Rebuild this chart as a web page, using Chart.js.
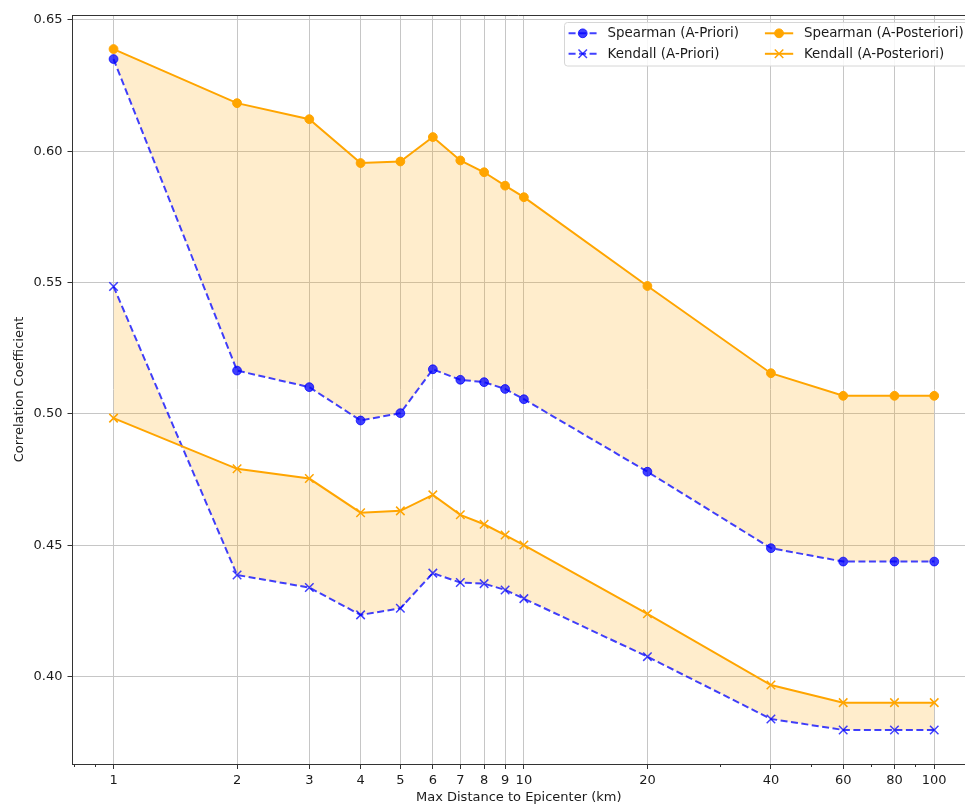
<!DOCTYPE html>
<html><head><meta charset="utf-8">
<script src="https://cdn.jsdelivr.net/npm/chart.js@4.4.1/dist/chart.umd.min.js"></script>
<style>
html,body{margin:0;padding:0;background:#fff;overflow:hidden;}
#wrap{width:965px;height:805px;overflow:hidden;position:relative;background:#fff;}
canvas{display:block;}
</style></head><body>
<div id="wrap"><canvas id="c" width="965" height="805"></canvas></div>
<script>
// ---- data ----
const distances = [1, 2, 3, 4, 5, 6, 7, 8, 9, 10, 20, 40, 60, 80, 100];
const spearmanPriori = [0.6351, 0.5165, 0.5102, 0.4975, 0.5003, 0.5170, 0.5130, 0.5121, 0.5095, 0.5056, 0.4780, 0.4489, 0.4438, 0.4438, 0.4438];
const kendallPriori = [0.5485, 0.4387, 0.4339, 0.4235, 0.4260, 0.4394, 0.4358, 0.4354, 0.4330, 0.4297, 0.4076, 0.3839, 0.3797, 0.3797, 0.3797];
const spearmanPosteriori = [0.6389, 0.6183, 0.6122, 0.5955, 0.5961, 0.6054, 0.5965, 0.5920, 0.5869, 0.5825, 0.5487, 0.5155, 0.5069, 0.5069, 0.5069];
const kendallPosteriori = [0.4984, 0.4791, 0.4754, 0.4624, 0.4631, 0.4692, 0.4616, 0.4580, 0.4539, 0.4501, 0.4239, 0.3968, 0.3901, 0.3901, 0.3901];
const seriesLabels = ['Spearman (A-Priori)', 'Kendall (A-Priori)', 'Spearman (A-Posteriori)', 'Kendall (A-Posteriori)'];
const xTickValues = [1, 2, 3, 4, 5, 6, 7, 8, 9, 10, 20, 40, 60, 80, 100];
const xMinorTickValues = [0.8, 0.9, 30, 50, 70, 90];
const yTickValues = [0.40, 0.45, 0.50, 0.55, 0.60, 0.65];
const xTitle = 'Max Distance to Epicenter (km)';
const yTitle = 'Correlation Coefficient';

// ---- helpers ----
const pts = (ys) => distances.map((x, i) => ({x: x, y: ys[i]}));
const allY = [].concat(spearmanPriori, kendallPriori, spearmanPosteriori, kendallPosteriori);
const yLo = Math.min(...allY), yHi = Math.max(...allY), yR = yHi - yLo;
const lxLo = Math.log10(Math.min(...distances)), lxHi = Math.log10(Math.max(...distances)), lxR = lxHi - lxLo;
// full (matplotlib-style) right limit; the picture is cropped a little before it
const xFullMax = Math.pow(10, lxHi + 0.05 * lxR);

const FONT = '"DejaVu Sans", "Liberation Sans", sans-serif';
const BLUE = 'rgba(0,0,255,0.75)';
const ORANGE = '#FFA500';
const FILL = 'rgba(255,165,0,0.2)';
const SPINE = '#333333';

const datasets = [
  {label: seriesLabels[0], data: pts(spearmanPriori), borderColor: BLUE, borderWidth: 2, borderDash: [7, 3.5],
   pointStyle: 'circle', pointRadius: 4.4, pointBackgroundColor: BLUE, pointBorderColor: BLUE, pointBorderWidth: 1,
   fill: false, order: 1, tension: 0},
  {label: seriesLabels[1], data: pts(kendallPriori), borderColor: BLUE, borderWidth: 2, borderDash: [7, 3.5],
   pointStyle: 'crossRot', pointRadius: 6, pointBackgroundColor: BLUE, pointBorderColor: BLUE, pointBorderWidth: 1.5,
   fill: false, order: 1, tension: 0},
  {label: seriesLabels[2], data: pts(spearmanPosteriori), borderColor: ORANGE, borderWidth: 2,
   pointStyle: 'circle', pointRadius: 4.4, pointBackgroundColor: ORANGE, pointBorderColor: ORANGE, pointBorderWidth: 1,
   backgroundColor: FILL, fill: '-2', order: 0, tension: 0},
  {label: seriesLabels[3], data: pts(kendallPosteriori), borderColor: ORANGE, borderWidth: 2,
   pointStyle: 'crossRot', pointRadius: 6, pointBackgroundColor: ORANGE, pointBorderColor: ORANGE, pointBorderWidth: 1.5,
   backgroundColor: FILL, fill: '-2', order: 0, tension: 0}
];

function drawMarker(ctx, style, x, y, r, fill, stroke, bw) {
  ctx.save();
  ctx.fillStyle = fill; ctx.strokeStyle = stroke; ctx.lineWidth = bw; ctx.setLineDash([]);
  if (style === 'circle') {
    ctx.beginPath(); ctx.arc(x, y, r, 0, Math.PI * 2); ctx.fill(); ctx.stroke();
  } else {
    const o = r * Math.SQRT1_2;
    ctx.beginPath();
    ctx.moveTo(x - o, y - o); ctx.lineTo(x + o, y + o);
    ctx.moveTo(x - o, y + o); ctx.lineTo(x + o, y - o);
    ctx.stroke();
  }
  ctx.restore();
}

const framePlugin = {
  id: 'frame',
  afterDraw(chart) {
    const ctx = chart.ctx, ca = chart.chartArea, xs = chart.scales.x;
    ctx.save();
    // top spine
    ctx.strokeStyle = SPINE; ctx.lineWidth = 1;
    ctx.beginPath(); ctx.moveTo(ca.left, Math.round(ca.top) + 0.5); ctx.lineTo(ca.right, Math.round(ca.top) + 0.5); ctx.stroke();
    // minor ticks
    xMinorTickValues.forEach(v => {
      const px = Math.round(xs.getPixelForValue(v)) + 0.5;
      ctx.beginPath(); ctx.moveTo(px, ca.bottom); ctx.lineTo(px, ca.bottom + 3); ctx.stroke();
    });
    ctx.restore();

    // legend (two columns, matplotlib style), anchored to the full axes right edge
    const ds = chart.data.datasets;
    const cols = [[0, 1], [2, 3]];
    const handle = 28.3, hpad = 10.7, colsp = 26, pad = 4.6;
    ctx.save();
    ctx.font = '13.4px ' + FONT;
    const widths = cols.map(c => Math.max(...c.map(i => ctx.measureText(ds[i].label).width)));
    const total = pad * 2 + cols.length * (handle + hpad) + widths.reduce((a, b) => a + b, 0) + colsp * (cols.length - 1);
    const right = xs.getPixelForValue(xFullMax) - 7;
    const left = right - total;
    const top = ca.top + 7.3;
    const h = 43.5, rowH = 20.5;
    ctx.fillStyle = 'rgba(255,255,255,0.85)';
    ctx.strokeStyle = '#d6d6d6'; ctx.lineWidth = 1;
    ctx.beginPath();
    if (ctx.roundRect) ctx.roundRect(Math.round(left) + 0.5, Math.round(top) + 0.5, total, h, 3); else ctx.rect(Math.round(left) + 0.5, Math.round(top) + 0.5, total, h);
    ctx.fill(); ctx.stroke();
    let x0 = left + pad;
    cols.forEach((c, ci) => {
      c.forEach((di, ri) => {
        const d = ds[di];
        const y = top + 11 + ri * rowH;
        ctx.save();
        ctx.strokeStyle = d.borderColor; ctx.lineWidth = d.borderWidth; ctx.setLineDash(d.borderDash || []);
        ctx.beginPath(); ctx.moveTo(x0, y); ctx.lineTo(x0 + handle, y); ctx.stroke();
        ctx.restore();
        drawMarker(ctx, d.pointStyle, x0 + handle / 2, y, d.pointRadius, d.pointBackgroundColor, d.pointBorderColor, d.pointBorderWidth);
        ctx.fillStyle = '#1a1a1a'; ctx.textBaseline = 'middle'; ctx.textAlign = 'left';
        ctx.fillText(d.label, x0 + handle + hpad, y + 0.5);
      });
      x0 += handle + hpad + widths[ci] + colsp;
    });
    ctx.restore();
  }
};

new Chart(document.getElementById('c'), {
  type: 'line',
  data: {datasets: datasets},
  plugins: [framePlugin],
  options: {
    responsive: false,
    animation: false,
    devicePixelRatio: 1,
    layout: {autoPadding: false, padding: {top: 15, right: 0, bottom: 0, left: 0}},
    plugins: {
      legend: {display: false},
      tooltip: {enabled: false},
      filler: {drawTime: 'beforeDatasetsDraw'}
    },
    scales: {
      x: {
        type: 'logarithmic',
        min: Math.pow(10, lxLo - 0.05 * lxR),
        max: Math.pow(10, lxHi + 0.0375 * lxR),
        afterBuildTicks: (s) => { s.ticks = xTickValues.map(v => ({value: v})); },
        afterFit: (s) => { s.height = 41; },
        ticks: {
          autoSkip: false, maxRotation: 0, minRotation: 0, padding: 4,
          color: '#1a1a1a', font: {family: FONT, size: 13},
          callback: (v) => String(v)
        },
        grid: {color: '#c6c6c6', lineWidth: 1, tickLength: 5, tickColor: SPINE},
        border: {display: true, color: SPINE, width: 1},
        title: {display: true, text: xTitle, color: '#1a1a1a', font: {family: FONT, size: 13}, padding: {top: 0, bottom: 0}}
      },
      y: {
        type: 'linear',
        min: yLo - 0.05 * yR,
        max: yHi + 0.05 * yR,
        afterBuildTicks: (s) => { s.ticks = yTickValues.map(v => ({value: v})); },
        afterFit: (s) => { s.width = 72.5; },
        ticks: {
          padding: 5, color: '#1a1a1a', font: {family: FONT, size: 13},
          callback: (v) => Number(v).toFixed(2)
        },
        grid: {color: '#c6c6c6', lineWidth: 1, tickLength: 5, tickColor: SPINE},
        border: {display: true, color: SPINE, width: 1},
        title: {display: true, text: yTitle, color: '#1a1a1a', font: {family: FONT, size: 13}, padding: {top: 12, bottom: 0}}
      }
    }
  }
});
</script>
</body></html>
